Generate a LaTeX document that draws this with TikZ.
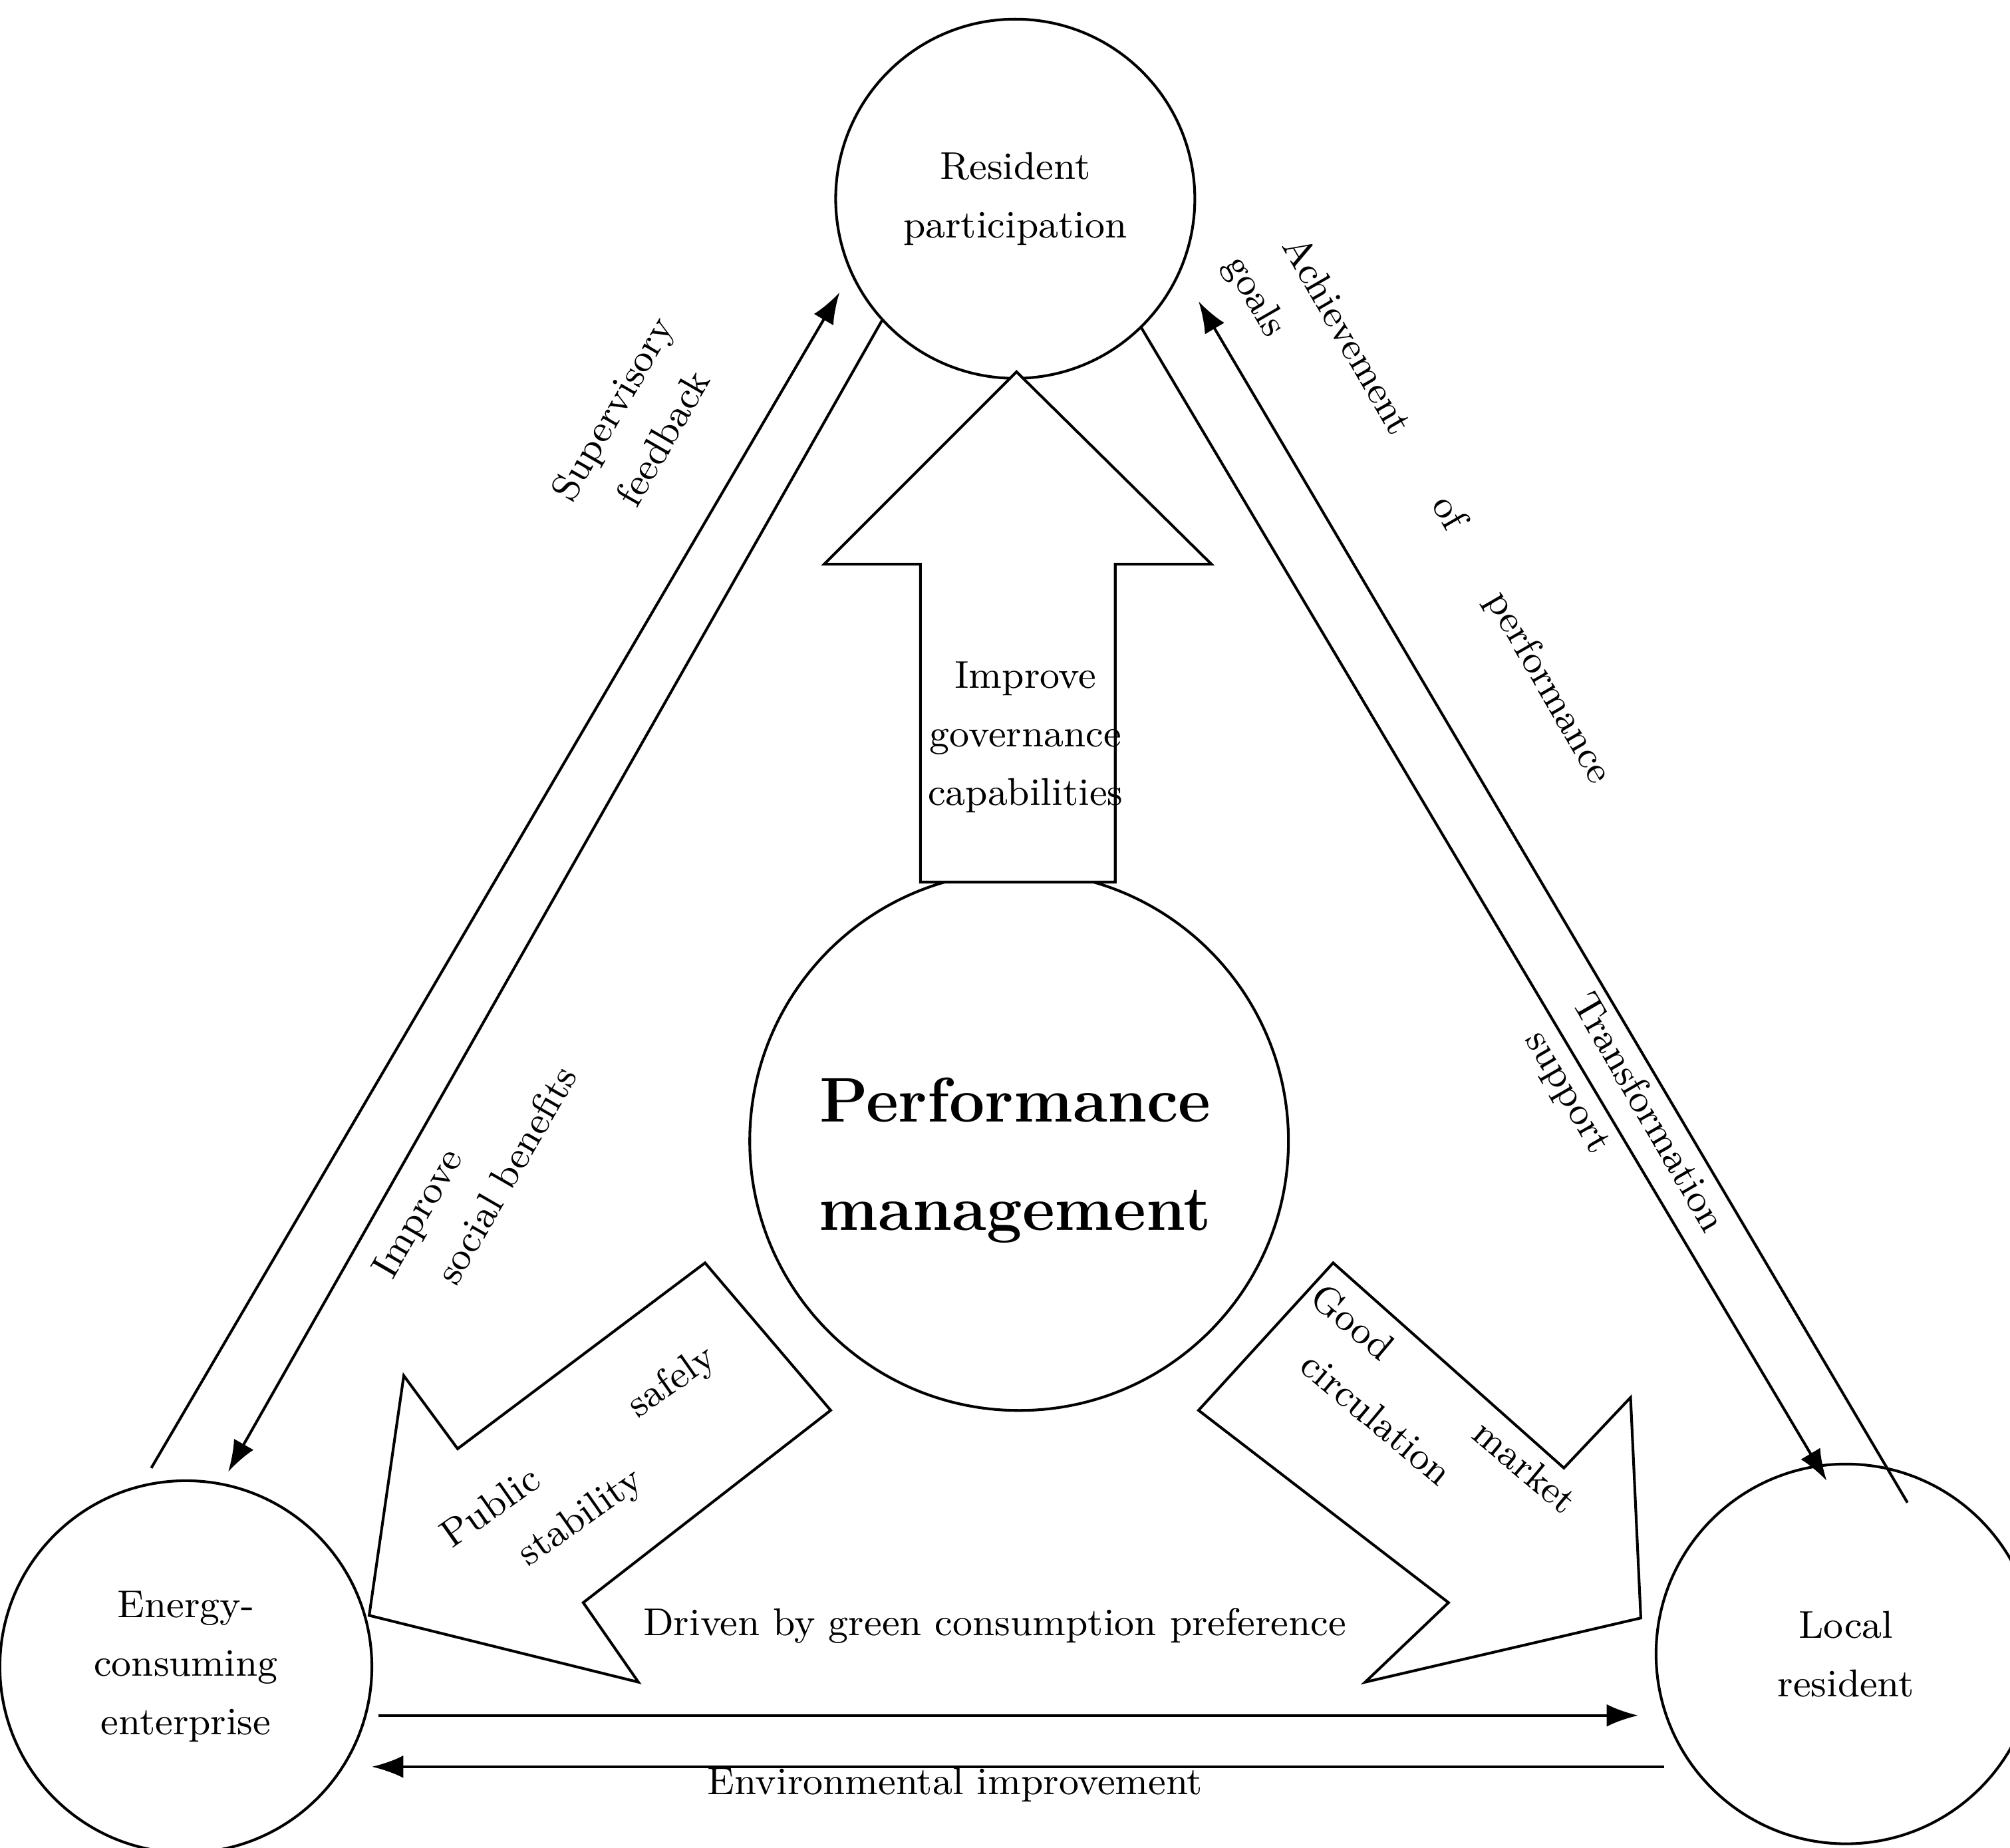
\documentclass[tikz,border=0pt]{standalone}
\usetikzlibrary{arrows.meta}
\begin{document}
\begin{tikzpicture}[x=0.01cm,y=-0.01cm,
  circ/.style={draw,circle,line width=0.6pt,inner sep=0pt,fill=white},
  conn/.style={line width=0.6pt,-{Latex[length=7pt,width=5pt]}},
  big/.style={draw,line width=0.6pt,fill=white},
  lab/.style={font=\fontsize{8.6}{13}\selectfont,align=center}]
\useasboundingbox (0,0) rectangle (1568,1441);
\node[circ,minimum size=2.8cm] (top) at (792,155) {};
\node[circ,minimum size=4.2cm] (mid) at (795,890) {};
\node[circ,minimum size=2.9cm] (left) at (145,1300) {};
\node[circ,minimum size=2.96cm] (right) at (1440,1290) {};
\node[lab] at (top) {Resident\\participation};
\node[lab] at (left) {Energy-\\consuming\\enterprise};
\node[lab] at (right) {Local\\resident};
% arrows
\filldraw[big] (718,688)--(718,440)--(643,440)--(793,290)--(945,440)--(870,440)--(870,688)--cycle;
\filldraw[big] (550,985)--(357,1130)--(315,1073)--(288,1260)--(498,1312)--(455,1250)--(648,1100)--cycle;
\filldraw[big] (1040,985)--(935,1100)--(1130,1250)--(1065,1312)--(1280,1262)--(1272,1090)--(1220,1145)--cycle;
\node[font=\fontsize{14}{24}\selectfont\bfseries,align=center] at (792,905) {Performance\\management};
\node[lab] at (800,575) {Improve\\governance\\capabilities};
\coordinate (a1) at (118,1145); \coordinate (a2) at (655,228);
\coordinate (b1) at (688,250); \coordinate (b2) at (178,1148);
\coordinate (c1) at (890,255); \coordinate (c2) at (1425,1155);
\coordinate (d1) at (1488,1172); \coordinate (d2) at (935,235);
\coordinate (e1) at (295,1338); \coordinate (e2) at (1278,1338);
\coordinate (f1) at (1298,1378); \coordinate (f2) at (290,1378);
\draw[conn] (a1)--(a2);
\draw[conn] (b1)--(b2);
\draw[conn] (c1)--(c2);
\draw[conn] (d1)--(d2);
\draw[conn] (e1)--(e2);
\draw[conn] (f1)--(f2);
\node[lab,rotate=60] at (497,330) {Supervisory\\feedback};
\node[lab,rotate=60] at (375,905) {Improve\hspace{4em}\mbox{}\\social benefits};
\node[lab,rotate=-60] at (1108,410) {Achievement\hspace{2em}of\hspace{2em}performance\\\mbox{}goals\hspace{14.5em}\mbox{}};
\node[lab,rotate=-60] at (1265,880) {Transformation\\support\hspace{3em}\mbox{}};
\node[lab,rotate=35] at (465,1148) {Public\hspace{3em}safely\\stability\hspace{2em}\mbox{}};
\node[lab,rotate=-40] at (1112,1108) {Good\hspace{3em}market\\circulation\hspace{2em}\mbox{}};
\node[lab] at (776,1268) {Driven\ by\ green\ consumption\ preference};
\node[lab] at (745,1392) {Environmental\ improvement};
\end{tikzpicture}
\end{document}
